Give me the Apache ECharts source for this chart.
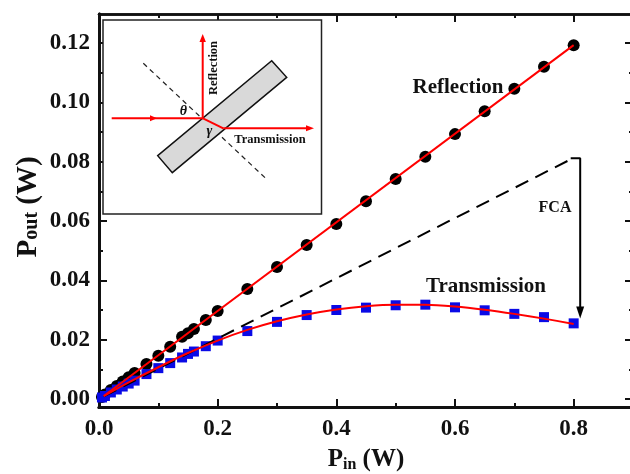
<!DOCTYPE html>
<html><head><meta charset="utf-8">
<style>html,body{margin:0;padding:0;background:#fff}#c{width:630px;height:474px}</style>
<script src="https://cdn.jsdelivr.net/npm/echarts@6/dist/echarts.min.js"></script>
</head><body><div id="c"></div>
<script>
const xMajor = [0, 0.2, 0.4, 0.6, 0.8];
const xMinor = [0.1, 0.3, 0.5, 0.7, 0.9];
const yMajor = [0, 0.02, 0.04, 0.06, 0.08, 0.10, 0.12];
const yMinor = [0.01, 0.03, 0.05, 0.07, 0.09, 0.11, 0.13];
const pin = [0.005,0.01,0.02,0.03,0.04,0.05,0.06,0.08,0.1,0.12,0.14,0.15,0.16,0.18,0.2,0.25,0.3,0.35,0.4,0.45,0.5,0.55,0.6,0.65,0.7,0.75,0.8];
const reflection = [0.0007,0.0015,0.003,0.0044,0.0059,0.0073,0.0088,0.0118,0.0146,0.0176,0.021,0.0222,0.0236,0.0266,0.0297,0.0371,0.0445,0.0519,0.059,0.0667,0.0742,0.0817,0.0893,0.097,0.1046,0.112,0.1193];
const transmission = [0.0005,0.001,0.0022,0.0032,0.0042,0.0052,0.0062,0.0084,0.0104,0.0121,0.014,0.0152,0.016,0.0178,0.0197,0.0229,0.026,0.0283,0.03,0.0308,0.0316,0.0318,0.0309,0.0299,0.0287,0.0276,0.0255];
const fitReflectionX = [0.008,0.8];
const fitReflectionY = [0.001,0.1193];
const fitTransX = [0.008,0.05,0.1,0.15,0.2,0.25,0.3,0.35,0.4,0.45,0.5,0.55,0.6,0.65,0.7,0.75,0.8];
const fitTransY = [0.001,0.0056,0.0107,0.0155,0.0197,0.0233,0.0262,0.0285,0.0302,0.0313,0.0318,0.0318,0.0312,0.0301,0.0287,0.0271,0.0253];
const linearX = [0.008,0.795];
const linearY = [0.0009,0.0808];
const fcaBracketX = [0.795,0.811,0.811];
const fcaBracketY = [0.0812,0.0812,0.0292];

const SERIF = '"Liberation Serif","Times New Roman",serif';
const INK = '#111';
const zip = (a,b)=>a.map((v,i)=>[v,b[i]]);

function axis(pos, grid, ticks, len, width, extra){
  return Object.assign({
    type:'value', gridIndex:grid, position:pos,
    axisLine:{show:true,onZero:false,lineStyle:{color:INK,width:width}},
    axisTick:{show:true,inside:true,length:len,customValues:ticks,lineStyle:{color:INK,width:2}},
    axisLabel:{show:false}, splitLine:{show:false}, minorTick:{show:false}
  }, extra);
}
const xr={min:0,max:0.9}, yr={min:-0.0027,max:0.1298};
const xLab={show:true,customValues:xMajor,margin:11,fontFamily:SERIF,fontWeight:'bold',fontSize:23,color:INK,formatter:v=>v.toFixed(1)};
const yLab={show:true,customValues:yMajor,margin:9,fontFamily:SERIF,fontWeight:'bold',fontSize:23,color:INK,formatter:v=>v.toFixed(2)};
const rect={left:99,top:14,width:534,height:393,outerBoundsMode:'none'};

const xAxis=[
  axis('bottom',0,xMajor,8,3,Object.assign({},xr,{axisLabel:xLab,
    name:'{b|P}{s|in}{b| (W)}',nameLocation:'middle',nameGap:40,nameMoveOverlap:false,
    nameTextStyle:{rich:{b:{fontFamily:SERIF,fontWeight:'bold',fontSize:25,color:INK,verticalAlign:'top',lineHeight:26},s:{fontFamily:SERIF,fontWeight:'bold',fontSize:16,color:INK,verticalAlign:'bottom',lineHeight:26}}}
  })),
  axis('top',0,xMajor,8,2.5,xr),
  axis('bottom',1,xMinor,4,3,xr),
  axis('top',1,xMinor,4,2.5,xr)
];
const yAxis=[
  axis('left',0,yMajor,8,3,Object.assign({},yr,{axisLabel:yLab,
    name:'{b| }{b|P}{s|out}{b| (W)}',nameLocation:'middle',nameGap:57,nameMoveOverlap:false,
    nameTextStyle:{rich:{b:{fontFamily:SERIF,fontWeight:'bold',fontSize:29,color:INK,verticalAlign:'top',lineHeight:28},s:{fontFamily:SERIF,fontWeight:'bold',fontSize:20,color:INK,verticalAlign:'bottom',lineHeight:28}}}
  })),
  axis('right',0,yMajor,8,2.5,yr),
  axis('left',1,yMinor,4,3,yr),
  axis('right',1,yMinor,4,2.5,yr)
];

function poly(points,fill,z,stroke){
  return {type:'polygon',z:z,shape:{points:points},style:{fill:fill,stroke:stroke||null,lineWidth:stroke?1.5:0}};
}
function seg(x1,y1,x2,y2,color,w,z,dash){
  return {type:'line',z:z,shape:{x1,y1,x2,y2},style:{stroke:color,lineWidth:w,lineDash:dash||null}};
}
function txt(x,y,t,size,z,rot,italic){
  return {type:'text',z:z,x:x,y:y,rotation:rot||0,
    style:{text:t,font:(italic?'italic ':'')+'bold '+size+'px '+SERIF,fill:INK,align:'center',verticalAlign:'middle'}};
}
const RED='#f00';
const graphic=[
  {type:'rect',z:100,shape:{x:103,y:20,width:218.5,height:194},style:{fill:'#fff',stroke:'#222',lineWidth:1.5}},
  seg(143.3,63.3,266.7,179.3,'#222',1.2,101,[5,4]),
  poly([[271.7,60.7],[286.7,77.3],[172.3,172.7],[157.7,155.7]],'#d9d9d9',102,'#111'),
  seg(111.7,118.3,203,118.3,RED,2,103),
  seg(202.7,118.3,202.7,38,RED,2,103),
  seg(203,118.3,223.3,128.3,RED,2,103),
  seg(223.3,128.3,310,128.3,RED,2,103),
  poly([[157,118.3],[150,115.3],[150,121.3]],RED,104),
  poly([[202.7,34],[199.5,42],[205.9,42]],RED,104),
  poly([[314,128.3],[306,125.3],[306,131.3]],RED,104),
  txt(214,68,'Reflection',12.5,105,Math.PI/2),
  txt(270,140,'Transmission',12.5,105),
  txt(183.3,111.7,'θ',14,105,0,true),
  txt(209.3,131.7,'γ',14,105,0,true),
  txt(458,88,'Reflection',21,105),
  txt(486,287,'Transmission',21,105),
  txt(555,208,'FCA',16,105)
];

const option={
  animation:false,backgroundColor:'#fff',
  grid:[Object.assign({},rect),Object.assign({},rect)],
  xAxis,yAxis,graphic,
  series:[
    {type:'line',name:'Reflection',data:zip(pin,reflection),xAxisIndex:0,yAxisIndex:0,symbol:'circle',symbolSize:12,
      lineStyle:{width:0},itemStyle:{color:'#000'},z:3},
    {type:'line',name:'Transmission',data:zip(pin,transmission),xAxisIndex:0,yAxisIndex:0,symbol:'rect',symbolSize:10,
      lineStyle:{width:0},itemStyle:{color:'#0a0ae6'},z:4},
    {type:'line',name:'Linear',data:zip(linearX,linearY),xAxisIndex:0,yAxisIndex:0,symbol:'none',
      lineStyle:{color:'#000',width:2,type:[14,8]},z:5},
    {type:'line',name:'Fit R',data:zip(fitReflectionX,fitReflectionY),xAxisIndex:0,yAxisIndex:0,symbol:'none',
      lineStyle:{color:RED,width:2},z:6},
    {type:'line',name:'Fit T',data:zip(fitTransX,fitTransY),xAxisIndex:0,yAxisIndex:0,symbol:'none',smooth:0.3,
      lineStyle:{color:RED,width:2},z:6},
    {type:'line',name:'FCA',data:zip(fcaBracketX,fcaBracketY),xAxisIndex:0,yAxisIndex:0,
      symbol:(v,p)=>p.dataIndex===2?'triangle':'none',symbolSize:[8,12],symbolRotate:180,
      lineStyle:{color:'#000',width:2},itemStyle:{color:'#000'},z:7}
  ]
};
echarts.init(document.getElementById('c'),null,{renderer:'canvas'}).setOption(option);
</script></body></html>
